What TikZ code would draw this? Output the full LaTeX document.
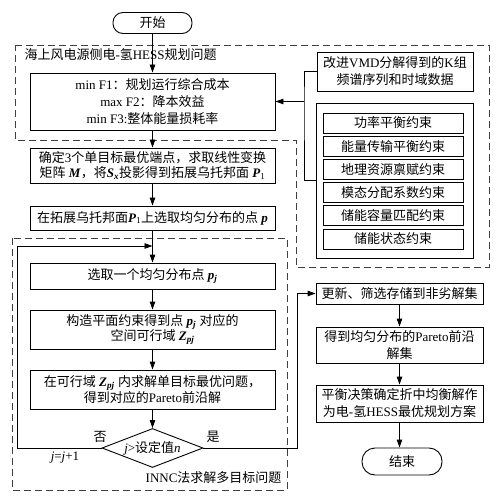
\documentclass[tikz,border=0pt]{standalone}
\usepackage{fontspec}
\setmainfont{Liberation Serif}
\newfontfamily\cjk{Noto Sans CJK SC}
\usetikzlibrary{arrows.meta,shapes.geometric}
\newcommand\zh[1]{{\cjk #1}}
\newcommand\bi[1]{\textbf{\textit{#1}}}
\tikzset{
  every node/.style={font=\fontsize{13}{15}\selectfont},
  box/.style={draw, line width=0.9pt, align=center, inner sep=1pt, minimum width=245pt},
  rbox/.style={draw, line width=0.9pt, align=center, inner sep=1pt, minimum width=167pt},
  cbx/.style={draw, line width=0.9pt, align=center, inner sep=0pt, minimum width=140pt, minimum height=20pt},
  term/.style={draw, line width=0.9pt, rounded corners=10pt, inner sep=1pt},
  dec/.style={draw, line width=0.9pt, diamond, shape aspect=2.6, inner sep=0pt, minimum width=101pt, minimum height=39pt},
  dsh/.style={line width=0.9pt, dash pattern=on 7pt off 4pt, draw=black!75},
  conn/.style={line width=0.9pt},
  arr/.style={line width=0.9pt, -{Triangle[length=8pt,width=5.5pt]}}
}
\begin{document}
\begin{tikzpicture}[x=1pt,y=-1pt]
\useasboundingbox (0,0) rectangle (501,500);
% dashed regions
\draw[dsh] (15,45) -- (489,45) -- (489,267) -- (296,267) -- (296,140) -- (15,140) -- cycle;
\draw[dsh] (12,238) rectangle (287,490);
\node[anchor=west] (t1) at (21,55) {\zh{海上风电源侧电}-\zh{氢}HESS\zh{规划问题}};
\node[anchor=east] (t2) at (285,478) {INNC\zh{法求解多目标问题}};

% left column
\node[term, minimum width=79pt, minimum height=21pt] (st) at (152.5,23) {\zh{开始}};
\node[box, minimum height=57pt, font=\fontsize{13}{17}\selectfont] (mf) at (152.5,101.5) {min F1\zh{：规划运行综合成本}\\max F2\zh{：降本效益}\\min F3:\zh{整体能量损耗率}};
\node[box, minimum height=35pt, font=\fontsize{13}{14.5}\selectfont] (ep) at (152.5,165.5) {\zh{确定}3\zh{个单目标最优端点，求取线性变换}\\\zh{矩阵} \bi{M}\zh{，将}\bi{S}\textsubscript{\bi{x}}\zh{投影得到拓展乌托邦面} \bi{P}\textsubscript{1}};
\node[box, minimum height=24pt] (up) at (152.5,218) {\zh{在拓展乌托邦面}\bi{P}\textsubscript{1}\zh{上选取均匀分布的点} \bi{p}};
\node[box, minimum height=26pt] (sel) at (152.5,276) {\zh{选取一个均匀分布点} \bi{p}\textsubscript{\bi{j}}};
\node[box, minimum height=39pt, font=\fontsize{13}{15.5}\selectfont] (cs) at (152.5,329.5) {\zh{构造平面约束得到点} \bi{p}\textsubscript{\bi{j}} \zh{对应的}\\\zh{空间可行域} \bi{Z}\textsubscript{\bi{pj}}};
\node[box, minimum height=39pt, font=\fontsize{13}{16}\selectfont] (so) at (152.5,389.5) {\zh{在可行域} \bi{Z}\textsubscript{\bi{pj}} \zh{内求解单目标最优问题，}\\\zh{得到对应的}Pareto\zh{前沿解}};
\node[dec] (dc) at (152.5,448) {\textit{j}>\zh{设定值}\textit{n}};
\node (no) at (100,437) {\zh{否}};
\node (yes) at (213,437) {\zh{是}};
\node (jj) at (65,458) {\textit{j}=\textit{j}+1};

% right column
\node[draw, line width=0.9pt, align=center, inner sep=1pt, minimum width=156pt, minimum height=39pt, font=\fontsize{13}{17}\selectfont] (vmd) at (395,71.5) {\zh{改进}VMD\zh{分解得到的}K\zh{组}\\\zh{频谱序列和时域数据}};
\node[draw, line width=0.9pt, minimum width=157pt, minimum height=155pt, inner sep=0pt] (cb) at (394.5,180.5) {};
\node[cbx] (c1) at (393,123) {\zh{功率平衡约束}};
\node[cbx] (c2) at (393,146.2) {\zh{能量传输平衡约束}};
\node[cbx] (c3) at (393,169.4) {\zh{地理资源禀赋约束}};
\node[cbx] (c4) at (393,192.6) {\zh{模态分配系数约束}};
\node[cbx] (c5) at (393,215.8) {\zh{储能容量匹配约束}};
\node[cbx] (c6) at (393,239) {\zh{储能状态约束}};

\node[rbox, minimum height=21pt] (ud) at (399.5,293.5) {\zh{更新、筛选存储到非劣解集}};
\node[rbox, minimum height=36pt, font=\fontsize{13}{17}\selectfont] (pa) at (399.5,345) {\zh{得到均匀分布的}Pareto\zh{前沿}\\\zh{解集}};
\node[rbox, minimum height=37pt, font=\fontsize{13}{17}\selectfont] (ba) at (399.5,403.5) {\zh{平衡决策确定折中均衡解作}\\\zh{为电}-\zh{氢}HESS\zh{最优规划方案}};
\node[term, minimum width=80pt, minimum height=27pt, rounded corners=13pt] (en) at (402,461.5) {\zh{结束}};

% connectors
\draw[arr] (st) -- (mf);
\draw[arr] (mf) -- (ep);
\draw[arr] (ep) -- (up);
\draw[arr] (up) -- (sel);
\draw[arr] (sel) -- (cs);
\draw[arr] (cs) -- (so);
\draw[arr] (so) -- (dc);
\coordinate (lp) at (152.5,246);
\draw[arr] (dc.west) -- ++(-84.5,0) |- (lp);
\draw[arr] (dc.east) -- ++(94,0) |- (ud.west);
\coordinate (jn) at (304,101.5);
\draw[conn] (vmd.west) -| (jn) |- (cb.west);
\draw[arr] (jn) -- (mf.east);
\draw[arr] (ud) -- (pa);
\draw[arr] (pa) -- (ba);
\draw[arr] (ba.south) -- (ba.south |- en.north);
\end{tikzpicture}
\end{document}
